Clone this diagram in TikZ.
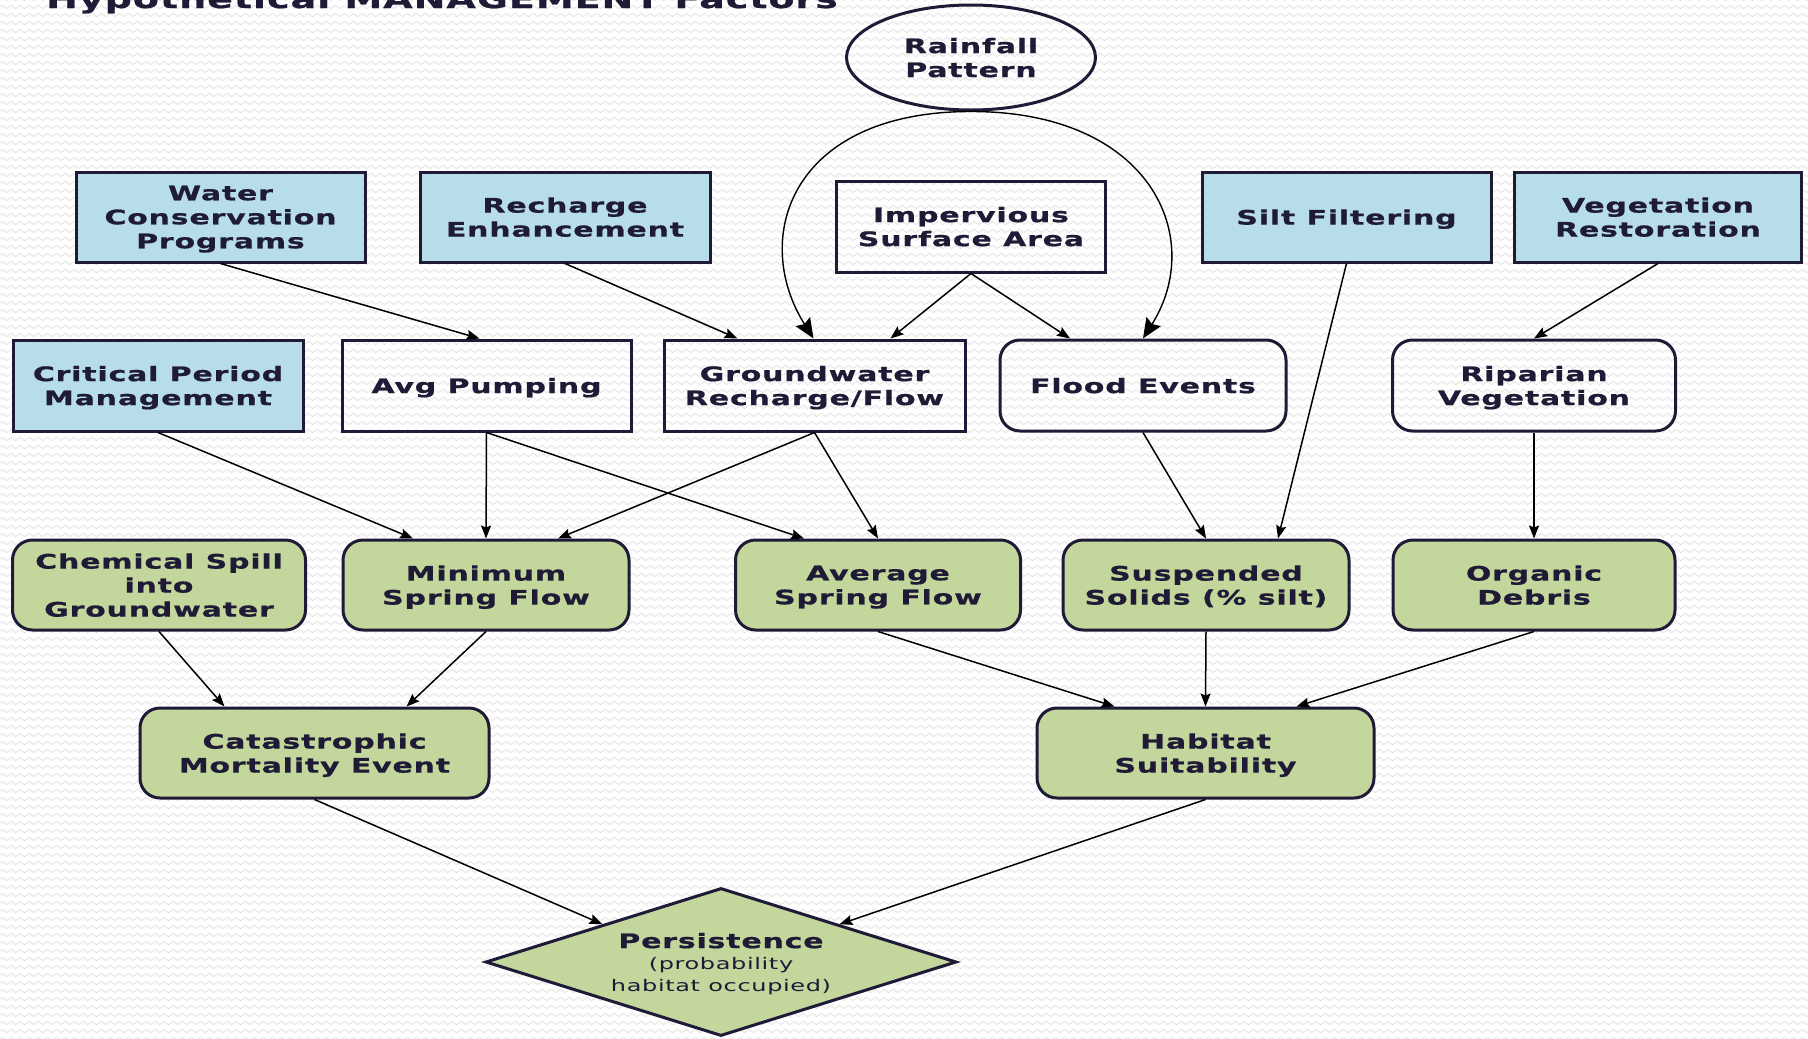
\documentclass[tikz,border=0pt]{standalone}
\usepackage{fontspec}
\usetikzlibrary{shapes.geometric,arrows.meta,patterns}
\newfontfamily\boxfont[FakeStretch=1.5,LetterSpace=4,BoldFeatures={FakeBold=0.8}]{DejaVu Sans}
\definecolor{ink}{HTML}{1F1A36}
\definecolor{mgmtblue}{HTML}{B7DDE8}
\definecolor{outgreen}{HTML}{C3D69B}
\definecolor{wave}{HTML}{EBEBEB}
% one period of the faint wavy paper texture
\pgfdeclarepatternformonly{softwaves}{\pgfqpoint{0pt}{-4pt}}{\pgfqpoint{9pt}{4pt}}{\pgfqpoint{9pt}{8pt}}{
  \pgfsetlinewidth{1.3pt}
  \pgfpathmoveto{\pgfqpoint{0pt}{0pt}}
  \pgfpathcurveto{\pgfqpoint{1.5pt}{2.2pt}}{\pgfqpoint{3pt}{2.2pt}}{\pgfqpoint{4.5pt}{0pt}}
  \pgfpathcurveto{\pgfqpoint{6pt}{-2.2pt}}{\pgfqpoint{7.5pt}{-2.2pt}}{\pgfqpoint{9pt}{0pt}}
  \pgfusepath{stroke}
}
\tikzset{
  base/.style={font=\boxfont\bfseries\fontsize{20}{24}\selectfont, text=ink,
    align=center, draw=ink, line width=3pt, inner sep=0pt, minimum height=90pt,
    text depth=-3pt},
  mgmt/.style={base, fill=mgmtblue},
  plainbox/.style={base},
  softbox/.style={base, rounded corners=20pt},
  outcome/.style={base, fill=outgreen, rounded corners=20pt},
  link/.style={draw=black, line width=1.5pt,
    -{Stealth[length=13pt,width=10pt,inset=2pt]}},
  biglink/.style={draw=black, line width=1.4pt,
    -{Stealth[length=20pt,width=17pt,inset=3pt]}}
}
\begin{document}
\begin{tikzpicture}[x=1pt,y=-1pt]
\useasboundingbox (0,0) rectangle (1808,1039);
\fill[white] (0,0) rectangle (1808,1039);
\fill[pattern=softwaves, pattern color=wave] (0,0) rectangle (1808,1039);

% heading, partly above the page edge
\node[anchor=base west, font=\boxfont\bfseries\fontsize{25.3}{30}\selectfont,
  text=ink, inner sep=0pt] (title) at (46,8) {Hypothetical MANAGEMENT Factors};

% drivers
\node[base, shape=ellipse, minimum width=249pt, minimum height=105pt] (rain)
  at (971,57.5) {Rainfall\\Pattern};
\node[mgmt, minimum width=289pt] (wcp) at (220.5,217) {Water\\Conservation\\Programs};
\node[mgmt, minimum width=290pt] (re) at (565,217) {Recharge\\Enhancement};
\node[plainbox, minimum width=269pt, minimum height=91pt] (isa) at (971,226.5) {Impervious\\Surface Area};
\node[mgmt, minimum width=289pt] (sf) at (1346.5,217) {Silt Filtering};
\node[mgmt, minimum width=287pt] (vr) at (1658,217) {Vegetation\\Restoration};

% intermediate factors
\node[mgmt, minimum width=290pt, minimum height=91pt] (cpm) at (158,385.5) {Critical Period\\Management};
\node[plainbox, minimum width=289pt, minimum height=91pt] (ap) at (486.5,385.5) {Avg Pumping};
\node[plainbox, minimum width=301pt, minimum height=91pt] (gw) at (814.5,385.5) {Groundwater\\Recharge/Flow};
\node[softbox, minimum width=286pt, minimum height=91pt] (fe) at (1143,385.5) {Flood Events};
\node[softbox, minimum width=283pt, minimum height=91pt] (rv) at (1534,385.5) {Riparian\\Vegetation};

% habitat conditions
\node[outcome, minimum width=293pt] (cs) at (159,585) {Chemical Spill\\into\\Groundwater};
\node[outcome, minimum width=286pt] (msf) at (486,585) {Minimum\\Spring Flow};
\node[outcome, minimum width=285pt] (asf) at (878,585) {Average\\Spring Flow};
\node[outcome, minimum width=286pt] (ss) at (1206,585) {Suspended\\Solids (\% silt)};
\node[outcome, minimum width=282pt] (od) at (1534,585) {Organic\\Debris};

\node[outcome, minimum width=349pt] (cme) at (314.5,753) {Catastrophic\\Mortality Event};
\node[outcome, minimum width=337pt] (hs) at (1205.5,753) {Habitat\\Suitability};

\node[base, shape=diamond, fill=outgreen, aspect=3.18, minimum width=471pt,
  minimum height=148pt, text depth=-4pt, font=\boxfont\fontsize{16}{21.5}\selectfont] (pers)
  at (721,962) {{\bfseries\fontsize{20}{21.5}\selectfont Persistence}\\(probability\\habitat occupied)};

% influences
\draw[link] (wcp.south) -- ([xshift=-7pt]ap.north);
\draw[link] (re.south) -- ([xshift=-77pt]gw.north);
\draw[biglink] (rain.south) .. controls +(-181,0) and +(-63,-100) .. ([xshift=-1pt]gw.north);
\draw[link] (isa.south) -- ([xshift=76pt]gw.north);
\draw[link] (isa.south) -- ([xshift=-73pt]fe.north);
\draw[biglink] (rain.south) .. controls +(181,0) and +(63,-100) .. (fe.north);
\draw[link] (sf.south) -- ([xshift=72pt]ss.north);
\draw[link] (vr.south) -- (rv.north);

\draw[link] (cpm.south) -- ([xshift=-73pt]msf.north);
\draw[link] (ap.south) -- (msf.north);
\draw[link] (ap.south) -- ([xshift=-74pt]asf.north);
\draw[link] (gw.south) -- ([xshift=72pt]msf.north);
\draw[link] (gw.south) -- (asf.north);
\draw[link] (fe.south) -- (ss.north);
\draw[link] (rv.south) -- (od.north);

\draw[link] (cs.south) -- ([xshift=-90pt]cme.north);
\draw[link] (msf.south) -- ([xshift=92pt]cme.north);
\draw[link] (asf.south) -- ([xshift=-91pt]hs.north);
\draw[link] (ss.south) -- (hs.north);
\draw[link] (od.south) -- ([xshift=91pt]hs.north);

\draw[link] (cme.south) -- (pers.north west);
\draw[link] (hs.south) -- (pers.north east);
\end{tikzpicture}
\end{document}
